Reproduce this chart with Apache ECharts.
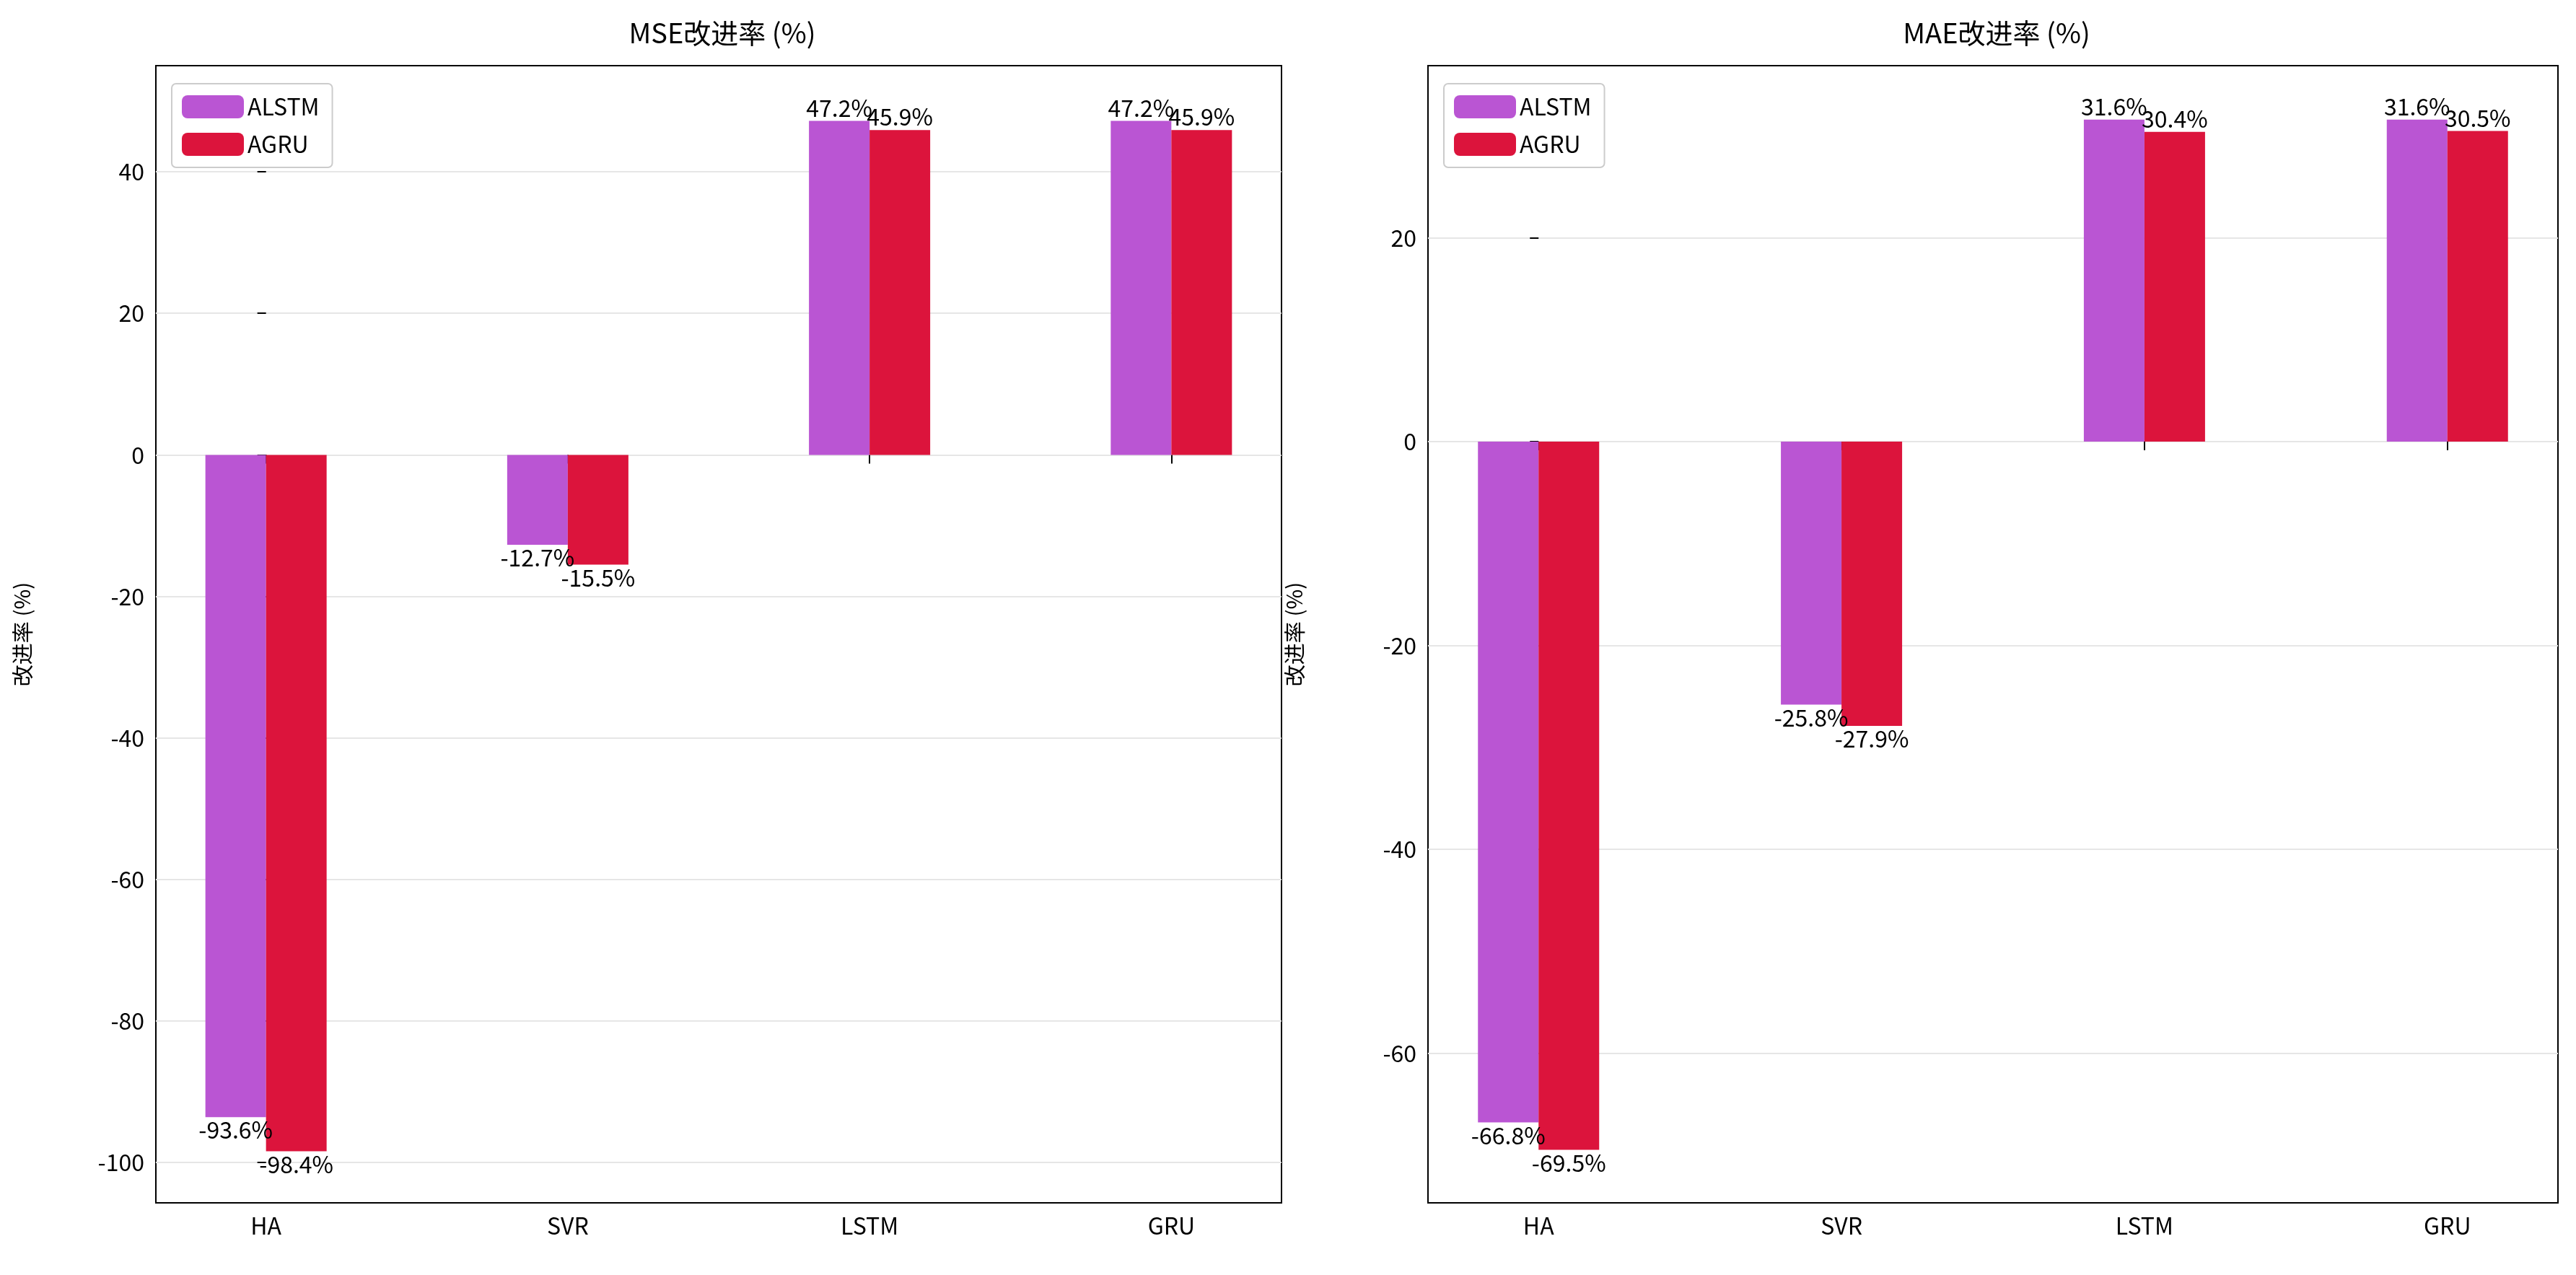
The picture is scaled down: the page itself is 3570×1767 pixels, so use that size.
<!DOCTYPE html>
<html><head><meta charset="utf-8">
<script src="https://cdn.jsdelivr.net/npm/echarts@6/dist/echarts.min.js"></script>
<style>html,body{margin:0;padding:0;background:#fff}#c{width:3570px;height:1767px}</style>
</head><body><div id="c"></div>
<script>
const categories = ['HA', 'SVR', 'LSTM', 'GRU'];
const mseALSTM = [-93.6, -12.7, 47.2, 47.2];
const mseAGRU = [-98.4, -15.5, 45.9, 45.9];
const maeALSTM = [-66.8, -25.8, 31.6, 31.6];
const maeAGRU = [-69.5, -27.9, 30.4, 30.5];
const mseTicks = [-100, -80, -60, -40, -20, 0, 20, 40];
const maeTicks = [-60, -40, -20, 0, 20];

const F = '"Noto Sans CJK JP", "Noto Sans", sans-serif';
const chart = echarts.init(document.getElementById('c'));
function mk(vals, name, color, gi) {
  return {
    type: 'bar', name: name, xAxisIndex: gi, yAxisIndex: gi,
    barWidth: 84, barGap: '0%', itemStyle: { color: color },
    data: vals.map((v, i) => ({ value: [i, v], label: { position: v >= 0 ? 'top' : 'bottom' } })),
    label: { show: true, distance: 2, fontFamily: F, fontSize: 32, color: '#000',
      formatter: p => p.value[1].toFixed(1) + '%' }
  };
}
function xA(gi) {
  return { type: 'value', gridIndex: gi, min: -0.365, max: 3.365,
    splitLine: { show: false },
    axisLine: { show: false },
    axisTick: { show: true, customValues: [0, 1, 2, 3], length: 12, inside: false, lineStyle: { color: '#000', width: 2 } },
    axisLabel: { customValues: [0, 1, 2, 3], fontFamily: F, fontSize: 32, color: '#000', margin: 16,
      formatter: v => categories[Math.round(v)] } };
}
function yA(gi, min, max, ticks) {
  return { type: 'value', gridIndex: gi, min: min, max: max,
    name: '改进率 (%)', nameLocation: 'middle', nameGap: 170, nameTextStyle: { fontFamily: F, fontSize: 30, color: '#000' },
    axisLine: { show: false },
    axisTick: { show: true, customValues: ticks, length: 12, lineStyle: { color: '#000', width: 2 } },
    axisLabel: { customValues: ticks, fontFamily: F, fontSize: 32, color: '#000', margin: 16 },
    splitLine: { show: true, lineStyle: { color: '#e6e6e6', width: 2 } } };
}
chart.setOption({
  animation: false,
  title: [
    { text: 'MSE改进率 (%)', left: 996, top: 22, textAlign: 'center', textStyle: { fontFamily: F, fontSize: 38, fontWeight: 'normal', color: '#000' } },
    { text: 'MAE改进率 (%)', left: 2762, top: 22, textAlign: 'center', textStyle: { fontFamily: F, fontSize: 38, fontWeight: 'normal', color: '#000' } }
  ],
  legend: [
    { data: ['ALSTM', 'AGRU'], orient: 'vertical', left: 238, top: 116, itemWidth: 86, itemHeight: 32, itemGap: 20,
      padding: [16, 18, 16, 14], borderColor: '#ccc', borderWidth: 2, borderRadius: 6,
      textStyle: { fontFamily: F, fontSize: 32, color: '#000' } },
    { data: ['ALSTM', 'AGRU'], orient: 'vertical', left: 2001, top: 116, itemWidth: 86, itemHeight: 32, itemGap: 20,
      padding: [16, 18, 16, 14], borderColor: '#ccc', borderWidth: 2, borderRadius: 6,
      textStyle: { fontFamily: F, fontSize: 32, color: '#000' } }
  ],
  grid: [
    { left: 216, right: 1794, top: 91, bottom: 100, show: true, borderColor: '#000', borderWidth: 2, backgroundColor: 'transparent' },
    { left: 1979, right: 25, top: 91, bottom: 100, show: true, borderColor: '#000', borderWidth: 2, backgroundColor: 'transparent' }
  ],
  xAxis: [xA(0), xA(1)],
  yAxis: [yA(0, -105.7, 55, mseTicks), yA(1, -74.7, 36.9, maeTicks)],
  series: [
    mk(mseALSTM, 'ALSTM', '#ba55d3', 0), mk(mseAGRU, 'AGRU', '#dc143c', 0),
    mk(maeALSTM, 'ALSTM', '#ba55d3', 1), mk(maeAGRU, 'AGRU', '#dc143c', 1)
  ]
});
</script></body></html>
